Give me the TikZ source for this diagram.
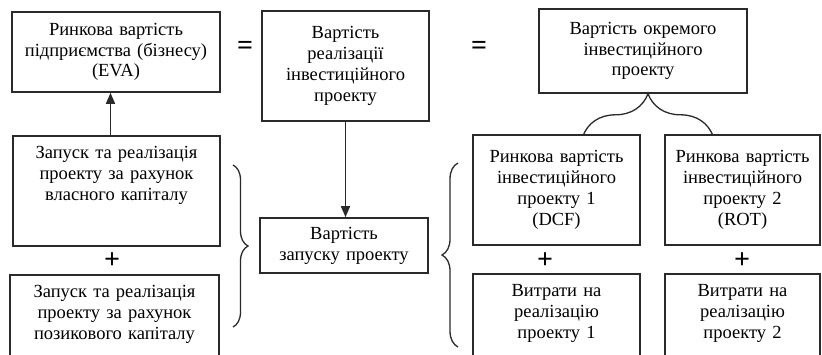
\documentclass[tikz,border=0pt]{standalone}
\usepackage{fontspec}
\setmainfont{Liberation Serif}
\usetikzlibrary{arrows.meta,calc,decorations.pathreplacing}
\definecolor{ink}{HTML}{2A2A2A}

\begin{document}
\begin{tikzpicture}[x=1pt,y=-1pt,>={Triangle[length=11pt,width=9pt]},
  font=\fontsize{18.5}{20.8}\selectfont,text=black,
  box/.style={draw=ink,line width=1.6pt,align=center,inner sep=0pt},
  topbox/.style={box,anchor=north,text height=23pt,text depth=#1},
  sign/.style={font=\fontsize{28}{28}\selectfont\bfseries,inner sep=0pt},
  link/.style={->,draw=ink,line width=1.6pt},
  curly/.style={draw=ink,line width=1.3pt,decorate,decoration={brace,amplitude=#1}}]
\useasboundingbox (0,0) rectangle (822,354);
\clip (0,0) rectangle (822,354);

% верхній ряд
\node[box,text width=208pt,minimum height=80pt] (eva) at (116,52) {Ринкова вартість\\підприємства (бізнесу)\\(EVA)};
\node[sign] (eqa) at (245,48) {=};
\node[box,text width=167pt,minimum height=110pt] (value) at (345.5,66) {Вартість\\реалізації\\інвестиційного\\проекту};
\node[sign] (eqb) at (479,48) {=};
\node[box,text width=208pt,minimum height=84pt] (single) at (643,51) {Вартість окремого\\інвестиційного\\проекту};

% ліва колонка: власний і позиковий капітал
\node[topbox=87pt,text width=207pt] (own) at (116.5,135) {Запуск та реалізація\\проекту за рахунок\\власного капіталу};
\node[sign] (plusa) at (112,261) {+};
\node[topbox=100pt,text width=209pt] (loan) at (114.5,274) {Запуск та реалізація\\проекту за рахунок\\позикового капіталу};
\draw[curly=15pt] (233,165) -- (233,327);

% середня колонка
\node[box,text width=168pt,minimum height=55pt] (launch) at (344,245.5) {Вартість\\запуску проекту};
\draw[link] ([xshift=-6pt]own.north) -- ([xshift=-6pt]own.north |- eva.south);
\draw[link] (value.south) -- (value.south |- launch.north);

% права частина: два проекти
\draw[curly=16pt] (458,347) -- (458,163);
\node[box,text width=167pt,minimum height=110pt] (mva) at (556.5,190) {Ринкова вартість\\інвестиційного\\проекту 1\\(DCF)};
\node[box,text width=155pt,minimum height=110pt] (mvb) at (742.5,190) {Ринкова вартість\\інвестиційного\\проекту 2\\(ROT)};
\node[sign] (plusb) at (545,261) {+};
\node[sign] (plusc) at (742,261) {+};
\node[topbox=100pt,text width=167pt] (costa) at (556.5,273) {Витрати на\\реалізацію\\проекту 1};
\node[topbox=100pt,text width=155pt] (costb) at (742.5,273) {Витрати на\\реалізацію\\проекту 2};
\draw[curly=42pt] ($(single.south)+(-60,42)$) -- ($(single.south)+(70,42)$);
\end{tikzpicture}
\end{document}
